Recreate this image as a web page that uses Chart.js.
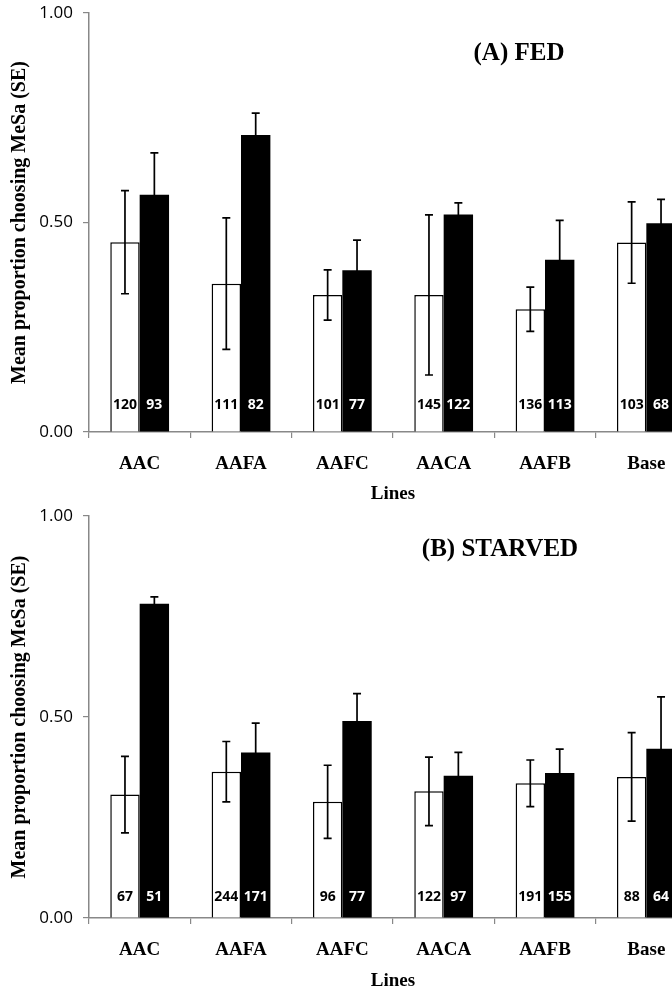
<!DOCTYPE html>
<html><head><meta charset="utf-8">
<script src="https://cdn.jsdelivr.net/npm/chart.js@4/dist/chart.umd.min.js"></script>
<style>
html,body{margin:0;padding:0;background:#fff;overflow:hidden;width:672px;height:989px;}
#wrap{position:relative;width:672px;height:989px;overflow:hidden;background:#fff;}
canvas{position:absolute;left:0;}
</style></head><body>
<div id="wrap">
<canvas id="cA" width="710" height="505" style="top:0"></canvas>
<canvas id="cB" width="710" height="489" style="top:500px"></canvas>
</div>
<script>
// ---- data ----
const categories = ['AAC', 'AAFA', 'AAFC', 'AACA', 'AAFB', 'Base'];
const yTicks = [0, 0.5, 1];

const fedWhite    = [0.453, 0.354, 0.327, 0.327, 0.293, 0.452];
const fedWhiteSE  = [0.123, 0.157, 0.060, 0.191, 0.053, 0.097];
const fedBlack    = [0.566, 0.709, 0.386, 0.519, 0.411, 0.498];
const fedBlackSE  = [0.100, 0.052, 0.072, 0.028, 0.094, 0.057];
const fedWhiteN   = [120, 111, 101, 145, 136, 103];
const fedBlackN   = [93, 82, 77, 122, 113, 68];

const starvedWhite   = [0.307, 0.364, 0.289, 0.315, 0.335, 0.351];
const starvedWhiteSE = [0.095, 0.075, 0.091, 0.085, 0.058, 0.110];
const starvedBlack   = [0.782, 0.412, 0.490, 0.354, 0.361, 0.421];
const starvedBlackSE = [0.017, 0.073, 0.068, 0.058, 0.059, 0.129];
const starvedWhiteN  = [67, 244, 96, 122, 191, 88];
const starvedBlackN  = [51, 171, 77, 97, 155, 64];

const SERIF = '"Liberation Serif", "Times New Roman", serif';
const SANS = '"Open Sans", sans-serif';

const errPlugin = {
  id: 'errAndCounts',
  afterDatasetsDraw(chart, args, opts) {
    const ctx = chart.ctx, ys = chart.scales.y;
    chart.data.datasets.forEach((ds, i) => {
      const meta = chart.getDatasetMeta(i);
      meta.data.forEach((bar, j) => {
        const v = ds.data[j], se = ds.se[j];
        const yt = ys.getPixelForValue(v + se), yb = ys.getPixelForValue(v - se);
        ctx.save();
        ctx.strokeStyle = '#000'; ctx.lineWidth = 1.7;
        ctx.beginPath();
        ctx.moveTo(bar.x, yt); ctx.lineTo(bar.x, yb);
        ctx.moveTo(bar.x - 4, yt); ctx.lineTo(bar.x + 4, yt);
        ctx.moveTo(bar.x - 4, yb); ctx.lineTo(bar.x + 4, yb);
        ctx.stroke();
        ctx.fillStyle = ds.countColor;
        ctx.font = 'bold 14px ' + SANS;
        ctx.textAlign = 'center'; ctx.textBaseline = 'middle';
        ctx.fillText(String(ds.n[j]), bar.x, ys.getPixelForValue(0) - opts.countOffset);
        ctx.restore();
      });
    });
    ctx.save();
    ctx.fillStyle = '#000';
    ctx.font = 'bold 25px ' + SERIF;
    ctx.textAlign = 'center'; ctx.textBaseline = 'middle';
    ctx.fillText(opts.title, opts.titleX, opts.titleY);
    ctx.restore();
  }
};

function makePanel(id, white, whiteSE, black, blackSE, whiteN, blackN, cfg) {
  new Chart(document.getElementById(id), {
    type: 'bar',
    data: {
      labels: categories,
      datasets: [
        { data: white, se: whiteSE, n: whiteN, countColor: '#000',
          backgroundColor: '#fff', borderColor: '#000', borderWidth: 1.5,
          categoryPercentage: 0.58, barPercentage: 1.0 },
        { data: black, se: blackSE, n: blackN, countColor: '#fff',
          backgroundColor: '#000', borderColor: '#000', borderWidth: 0,
          categoryPercentage: 0.58, barPercentage: 1.0 }
      ]
    },
    options: {
      responsive: false, animation: false, devicePixelRatio: 1,
      layout: { padding: { top: cfg.topPad, right: 13, left: 0, bottom: 0 } },
      plugins: {
        legend: { display: false }, tooltip: { enabled: false },
        errAndCounts: { countOffset: cfg.countOffset, title: cfg.title, titleX: cfg.titleX, titleY: cfg.titleY }
      },
      scales: {
        x: {
          grid: { display: true, drawOnChartArea: false, color: '#888', tickLength: 6, offset: true, lineWidth: 1.2 },
          border: { color: '#888', width: 1.5 },
          ticks: { color: '#000', font: { family: SERIF, size: 19, weight: 'bold' }, padding: cfg.xPad, maxRotation: 0, autoSkip: false },
          title: { display: true, text: 'Lines', color: '#000', font: { family: SERIF, size: 19, weight: 'bold', lineHeight: cfg.titleLH }, padding: { top: 0, bottom: cfg.titlePadB } },
          afterFit: s => { s.height = cfg.xH; s.paddingLeft = 0; s.paddingRight = 0; }
        },
        y: {
          min: 0, max: 1,
          afterBuildTicks: s => { s.ticks = yTicks.map(v => ({ value: v })); },
          ticks: { callback: v => Number(v).toFixed(2), color: '#000', font: { family: SANS, size: 17 }, padding: 10 },
          grid: { drawOnChartArea: false, color: '#888', tickLength: 6, lineWidth: 1.2 },
          border: { color: '#888', width: 1.5 },
          title: { display: true, text: 'Mean proportion choosing MeSa (SE)', color: '#000', font: { family: SERIF, size: 20, weight: 'bold', lineHeight: 1.2 }, padding: { top: 8, bottom: 0 } },
          afterFit: s => { s.width = 89; s.paddingTop = 0; s.paddingBottom = 0; }
        }
      }
    },
    plugins: [errPlugin]
  });
}

makePanel('cA', fedWhite, fedWhiteSE, fedBlack, fedBlackSE, fedWhiteN, fedBlackN,
  { topPad: 13, xH: 73, xPad: 15, countOffset: 27, titleLH: 1, titlePadB: 1,
    title: '(A) FED', titleX: 519, titleY: 54 });
makePanel('cB', starvedWhite, starvedWhiteSE, starvedBlack, starvedBlackSE, starvedWhiteN, starvedBlackN,
  { topPad: 16, xH: 71, xPad: 15, countOffset: 21, titleLH: 0.8, titlePadB: 0,
    title: '(B) STARVED', titleX: 500, titleY: 50 });
</script>
</body></html>
